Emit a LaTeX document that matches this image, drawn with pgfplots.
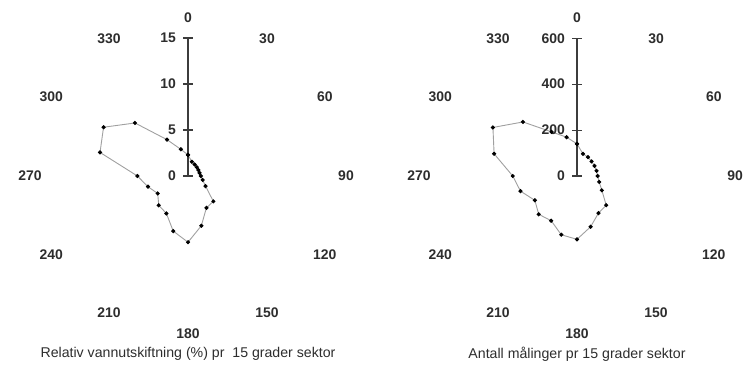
\documentclass[border=0pt]{standalone}
\usepackage{fontspec}
\setmainfont{Liberation Sans}
\usepackage{pgfplots}
\pgfplotsset{compat=1.18}
\usepackage{pgfplotstable}

\definecolor{txt}{RGB}{45,45,45}
\definecolor{outline}{RGB}{160,160,160}
\definecolor{spoke}{RGB}{60,60,60}

% direction (degrees, clockwise from north) and value per 15 degree sector
\pgfplotstableread{
a r
0 2.3
15 1.6
30 1.45
45 1.35
60 1.3
75 1.3
90 1.4
105 1.65
120 2.2
135 3.9
150 4.0
165 5.6
180 7.2
195 6.2
210 4.7
225 4.5
240 3.8
255 4.5
270 5.5
285 9.9
300 10.6
315 8.15
330 4.56
345 3.0
360 2.3
}\exchange

\pgfplotstableread{
a r
0 140
15 100
30 95
45 90
60 88
75 88
90 90
105 100
120 125
135 180
150 187
165 229
180 276
195 265
210 225
225 236
240 212
255 255
270 280
285 374
300 423
315 333
330 222
345 175
360 140
}\counts

\pgfplotsset{
  rose/.style={
    hide axis, clip=false, scale only axis,
    anchor=origin,
  },
  roseline/.style={
    color=outline, line width=0.9bp,
    mark=*, mark size=1.6bp,
    mark options={fill=black, draw=black},
  },
}

\newcommand{\labfont}{\fontsize{14}{16}\selectfont\bfseries}
\newcommand{\capfont}{\fontsize{14.2}{16}\selectfont}

\begin{document}
\begin{tikzpicture}
\path[use as bounding box] (0,0) rectangle (746bp,371bp);

% ---- left: relative water exchange ----
\begin{axis}[rose, at={(188bp,195bp)}, x=9.2bp, y=9.2bp,
  xmin=-15, xmax=15, ymin=-15, ymax=15]
  \addplot[roseline] table[
    x expr={\thisrow{r}*sin(\thisrow{a})},
    y expr={\thisrow{r}*cos(\thisrow{a})}] {\exchange};
  \draw[spoke, line width=1.3bp] (axis cs:0,0) -- (axis cs:0,15);
  \pgfplotsinvokeforeach{0,5,10,15}{
    \draw[spoke, line width=1.1bp]
      ([xshift=-5bp]axis cs:0,#1) -- ([xshift=5bp]axis cs:0,#1);
    \node[anchor=east, text=txt, font=\labfont, inner sep=0pt]
      at ([xshift=-12bp]axis cs:0,#1) {#1};
  }
\end{axis}

% ---- right: number of measurements ----
\begin{axis}[rose, at={(577bp,195bp)}, x=0.2295bp, y=0.2295bp,
  xmin=-600, xmax=600, ymin=-600, ymax=600]
  \addplot[roseline] table[
    x expr={\thisrow{r}*sin(\thisrow{a})},
    y expr={\thisrow{r}*cos(\thisrow{a})}] {\counts};
  \draw[spoke, line width=1.3bp] (axis cs:0,0) -- (axis cs:0,600);
  \pgfplotsinvokeforeach{0,200,400,600}{
    \draw[spoke, line width=1.1bp]
      ([xshift=-5bp]axis cs:0,#1) -- ([xshift=5bp]axis cs:0,#1);
    \node[anchor=east, text=txt, font=\labfont, inner sep=0pt]
      at ([xshift=-12bp]axis cs:0,#1) {#1};
  }
\end{axis}

% compass directions round both roses
\foreach \cx in {188,577}{
  \begin{scope}[shift={(\cx bp,195bp)}]
    \foreach \d in {0,30,...,330}{
      \node[text=txt, font=\labfont, inner sep=0pt] at ({90-\d}:158bp) {\d};
    }
  \end{scope}
}

\node[text=txt, font=\capfont] at (188bp,17bp)
  {Relativ vannutskiftning (\%) pr~ 15 grader sektor};
\node[text=txt, font=\capfont] at (577bp,17bp)
  {Antall målinger pr 15 grader sektor};
\end{tikzpicture}
\end{document}
